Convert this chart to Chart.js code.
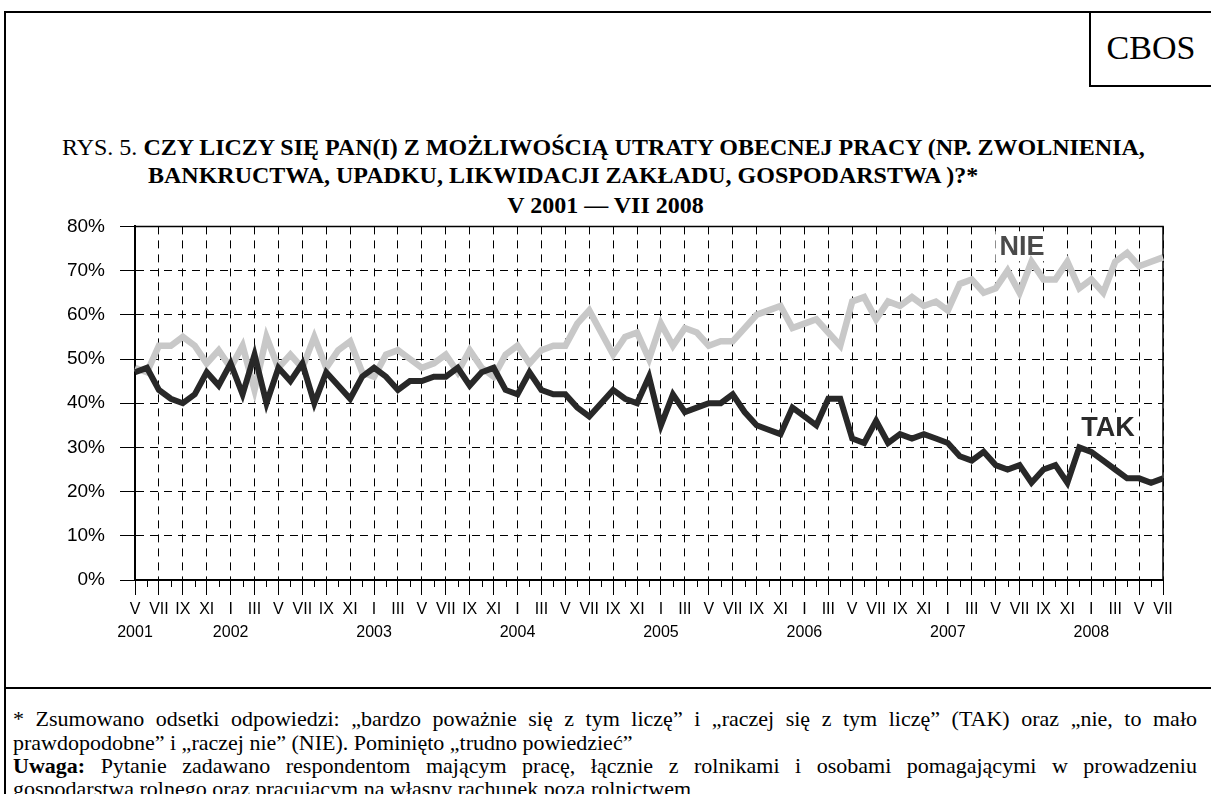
<!DOCTYPE html>
<html>
<head>
<meta charset="utf-8">
<script src="https://cdn.jsdelivr.net/npm/chart.js@4.4.0/dist/chart.umd.min.js"></script>
<style>
  body { margin: 0; background: #fff; width: 1211px; height: 794px; overflow: hidden; position: relative; font-family: "Liberation Serif", "Times New Roman", serif; color: #000; }
  .frame { position: absolute; left: 4px; top: 11px; width: 1230px; height: 800px; border: 2px solid #000; }
  .cbos { position: absolute; left: 1089px; top: 11px; width: 140px; height: 72px; border: 2px solid #000; }
  .cbos-text { position: absolute; left: 1091px; top: 12px; width: 120px; height: 72px; line-height: 72px; text-align: center; font-size: 34px; }
  .sep { position: absolute; left: 4px; top: 687px; width: 1230px; border-top: 2px solid #000; }
  .title { position: absolute; font-size: 24px; line-height: 28px; white-space: nowrap; font-weight: bold; }
  .title .n { font-weight: normal; }
  .chart-box { position: absolute; left: 0; top: 200px; width: 1211px; height: 440px; }
  .note { position: absolute; left: 13px; width: 1184px; font-size: 22px; line-height: 23px; white-space: nowrap; }
  .note.j { text-align: justify; text-align-last: justify; white-space: normal; }
</style>
</head>
<body>
<div class="frame"></div>
<div class="cbos"></div>
<div class="cbos-text">CBOS</div>

<div class="title" style="left:62px; top:133px;"><span class="n">RYS. 5. </span>CZY LICZY SIĘ PAN(I) Z MOŻLIWOŚCIĄ UTRATY OBECNEJ PRACY (NP. ZWOLNIENIA,</div>
<div class="title" style="left:148px; top:161px;">BANKRUCTWA, UPADKU, LIKWIDACJI ZAKŁADU, GOSPODARSTWA )?*</div>
<div class="title" style="left:0; width:1211px; text-align:center; top:191px;">V 2001 — VII 2008</div>

<div class="chart-box"><canvas id="trendChart"></canvas></div>

<div class="sep"></div>
<div class="note j" style="top:707px;">* Zsumowano odsetki odpowiedzi: „bardzo poważnie się z tym liczę” i „raczej się z tym liczę” (TAK) oraz „nie, to mało</div>
<div class="note" style="top:731px;">prawdopodobne” i „raczej nie” (NIE). Pominięto „trudno powiedzieć”</div>
<div class="note j" style="top:754px;"><b>Uwaga:</b> Pytanie zadawano respondentom mającym pracę, łącznie z rolnikami i osobami pomagającymi w prowadzeniu</div>
<div class="note" style="top:777px;">gospodarstwa rolnego oraz pracującym na własny rachunek poza rolnictwem</div>

<script>
// monthly surveys, V 2001 - VII 2008
var romanMonths = ['I', 'II', 'III', 'IV', 'V', 'VI', 'VII', 'VIII', 'IX', 'X', 'XI', 'XII'];
var firstYear = 2001;
var firstMonth = 4; // V
var lastYear = 2008;
var lastMonth = 6; // VII

var tak = [
    47, 48, 43, 41, 40, 42, 47, 44, 49, 42, 51, 40, 48, 45, 49, 40, 47, 44, 41, 46, 48, 46, 43,
    45, 45, 46, 46, 48, 44, 47, 48, 43, 42, 47, 43, 42, 42, 39, 37, 40, 43, 41, 40, 46, 35,
    42, 38, 39, 40, 40, 42, 38, 35, 34, 33, 39, 37, 35, 41, 41, 32, 31, 36, 31, 33, 32, 33, 32,
    31, 28, 27, 29, 26, 25, 26, 22, 25, 26, 22, 30, 29, 27, 25, 23, 23, 22, 23
];
var nie = [
    48, 47, 53, 53, 55, 53, 49, 52, 48, 53, 43, 55, 48, 51, 48, 55, 48, 52, 54, 47, 46, 51, 52,
    50, 48, 49, 51, 47, 52, 48, 46, 51, 53, 49, 52, 53, 53, 58, 61, 56, 51, 55, 56, 50, 58,
    53, 57, 56, 53, 54, 54, 57, 60, 61, 62, 57, 58, 59, 56, 53, 63, 64, 59, 63, 62, 64, 62, 63,
    61, 67, 68, 65, 66, 70, 65, 72, 68, 68, 72, 66, 68, 65, 72, 74, 71, 72, 73
];

var months = [];
for (var yr = firstYear, mo = firstMonth; yr < lastYear || (yr === lastYear && mo <= lastMonth); ) {
    months.push({ roman: romanMonths[mo], year: yr });
    mo++;
    if (mo === 12) { mo = 0; yr++; }
}

// where the series names sit, in axis units (month index, percent)
var seriesTags = [
    { text: 'NIE', at: [74.2, 75.5], color: '#4a4a4a' },
    { text: 'TAK', at: [81.4, 34.5], color: '#2a2a2a' }
];

var isMajor = function(i) { return i % 2 === 0; };

var chartDecor = {
    id: 'chartDecor',
    beforeDatasetsDraw: function(chart) {
        var ctx = chart.ctx, a = chart.chartArea;
        var x = chart.scales.x, y = chart.scales.y;
        ctx.save();
        // short ticks for the unlabelled months
        ctx.strokeStyle = '#000';
        ctx.lineWidth = 1;
        for (var i = 1; i < months.length; i += 2) {
            var px = Math.round(x.getPixelForValue(i)) + 0.5;
            ctx.beginPath();
            ctx.moveTo(px, a.bottom);
            ctx.lineTo(px, a.bottom + 7);
            ctx.stroke();
        }
        // closed frame on top and right
        ctx.lineWidth = 1.5;
        ctx.beginPath();
        ctx.moveTo(a.left, a.top);
        ctx.lineTo(a.right, a.top);
        ctx.lineTo(a.right, a.bottom);
        ctx.stroke();
        // series names on a white patch
        ctx.font = 'bold 27px "Liberation Sans", Arial, sans-serif';
        ctx.textAlign = 'center';
        ctx.textBaseline = 'middle';
        seriesTags.forEach(function(t) {
            var tx = x.getPixelForValue(t.at[0]);
            var ty = y.getPixelForValue(t.at[1]);
            var w = ctx.measureText(t.text).width + 8;
            ctx.fillStyle = '#fff';
            ctx.fillRect(tx - w / 2, ty - 15, w, 30);
            ctx.fillStyle = t.color;
            ctx.fillText(t.text, tx, ty + 1);
        });
        ctx.restore();
    }
};

document.addEventListener("DOMContentLoaded", function() {
    var ctx = document.getElementById('trendChart').getContext('2d');

    var data = {
        labels: months.map(function(m) { return m.roman + ' ' + m.year; }),
        datasets: [{
            label: 'TAK',
            data: tak,
            borderColor: '#282828',
            borderWidth: 6,
            borderJoinStyle: 'miter',
            pointRadius: 0,
            tension: 0
        }, {
            label: 'NIE',
            data: nie,
            borderColor: '#c8c8c8',
            borderWidth: 6.5,
            borderJoinStyle: 'miter',
            pointRadius: 0,
            tension: 0
        }]
    };

    var trendChart = new Chart(ctx, {
        type: 'line',
        data: data,
        plugins: [chartDecor],
        options: {
            responsive: true,
            maintainAspectRatio: false,
            animation: false,
            layout: { padding: { top: 21, right: 48, left: 0, bottom: 0 } },
            plugins: {
                legend: { display: false },
                tooltip: { enabled: false }
            },
            scales: {
                x: {
                    grid: {
                        color: function(c) { return isMajor(c.index) ? '#000' : 'rgba(0,0,0,0)'; },
                        tickColor: function(c) { return isMajor(c.index) ? '#000' : 'rgba(0,0,0,0)'; },
                        lineWidth: 1,
                        tickLength: 15
                    },
                    border: { color: '#000', width: 2, dash: [8, 6] },
                    ticks: {
                        autoSkip: false,
                        maxRotation: 0,
                        padding: 3,
                        color: '#000',
                        font: { family: '"Liberation Sans", Arial, sans-serif', size: 16, lineHeight: 1.45 },
                        callback: function(v, i) {
                            if (!isMajor(i)) return '';
                            var m = months[i];
                            if (i === 0 || m.roman === 'I') return [m.roman, String(m.year)];
                            return m.roman;
                        }
                    },
                    afterFit: function(s) { s.height = 60; }
                },
                y: {
                    min: 0,
                    max: 80,
                    grid: { color: '#000', lineWidth: 1, tickLength: 15 },
                    border: { color: '#000', width: 2, dash: [8, 6] },
                    ticks: {
                        stepSize: 10,
                        padding: 15,
                        color: '#000',
                        font: { family: '"Liberation Sans", Arial, sans-serif', size: 19 },
                        callback: function(v) { return v + '%'; }
                    },
                    afterFit: function(s) { s.width = 135; }
                }
            }
        }
    });
});
</script>
</body>
</html>
